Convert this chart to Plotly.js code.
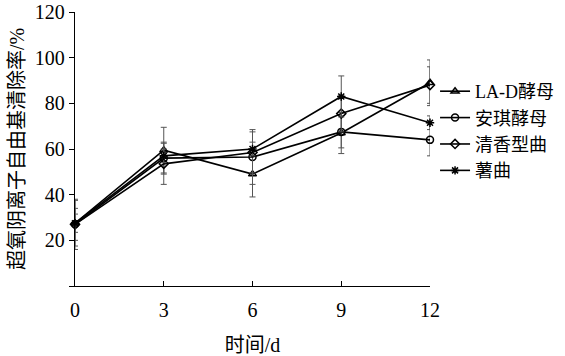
<!DOCTYPE html>
<html>
<head>
<meta charset="utf-8">
<script src="https://cdn.plot.ly/plotly-3.0.1.min.js"></script>
<style>html,body{margin:0;padding:0;background:#fff;}#chart{width:565px;height:356px;}</style>
</head>
<body>
<div id="chart"></div>
<script>
const days = [0, 3, 6, 9, 12];
const seriesNames = ["LA-D酵母", "安琪酵母", "清香型曲", "薯曲"];
const ladValues = [27.5, 59.5, 49, 67, 89];
const ladErrors = [10, 10, 10, 9, 10];
const anqiValues = [27, 56, 56.5, 67.5, 64];
const anqiErrors = [7, 7, 12, 7, 7];
const qingxiangValues = [27, 53.5, 58.5, 75.5, 88];
const qingxiangErrors = [11, 9, 9, 8, 8];
const shuquValues = [27.5, 57, 60, 83, 71.5];
const shuquErrors = [4, 3, 3, 9, 3];
const yTickVals = [0, 20, 40, 60, 80, 100, 120];
const yTickText = ["", "20", "40", "60", "80", "100", "120"];
const xTickVals = [0, 3, 6, 9, 12];

const symbols = ["triangle-up-open", "circle-open", "diamond-open", "asterisk-open"];
const valuesList = [ladValues, anqiValues, qingxiangValues, shuquValues];
const errorsList = [ladErrors, anqiErrors, qingxiangErrors, shuquErrors];

const traces = seriesNames.map((name, i) => ({
  type: "scatter",
  mode: "lines+markers",
  name: name,
  x: days,
  y: valuesList[i],
  cliponaxis: false,
  line: {color: "#000", width: 1.6},
  marker: {symbol: symbols[i], size: 7, color: "#000", line: {color: "#000", width: 1.5}},
  error_y: {type: "data", array: errorsList[i], visible: true, color: "#555", thickness: 1, width: 3}
}));

const font = {family: "Liberation Serif, 'Noto Sans CJK SC', serif", size: 20, color: "#000"};

const layout = {
  width: 565, height: 356,
  margin: {l: 75, r: 135, t: 12, b: 70},
  paper_bgcolor: "#fff", plot_bgcolor: "#fff",
  font: font,
  showlegend: true,
  legend: {xref: "container", yref: "container", x: 0.77, y: 0.795, xanchor: "left", yanchor: "top", font: {family: font.family, size: 18, color: "#000"}, tracegroupgap: 0, itemwidth: 30, bgcolor: "rgba(0,0,0,0)"},
  xaxis: {
    range: [0, 12], tickvals: xTickVals, ticks: "inside", ticklen: 5, tickcolor: "#000",
    showline: true, linecolor: "#000", linewidth: 1.2, showgrid: false, zeroline: false,
    tickfont: font, automargin: false, ticklabelstandoff: 6,
    title: {text: "时间/d", font: font, standoff: 24}
  },
  yaxis: {
    range: [0, 120], tickvals: yTickVals, ticktext: yTickText, ticks: "outside", ticklen: 5, tickcolor: "#000",
    showline: true, linecolor: "#000", linewidth: 1.2, showgrid: false, zeroline: false,
    tickfont: font, automargin: false, ticklabeloverflow: "allow",
    title: {text: "超氧阴离子自由基清除率/%", font: font, standoff: 4}
  }
};

Plotly.newPlot("chart", traces, layout, {displayModeBar: false, staticPlot: true});
</script>
</body>
</html>
